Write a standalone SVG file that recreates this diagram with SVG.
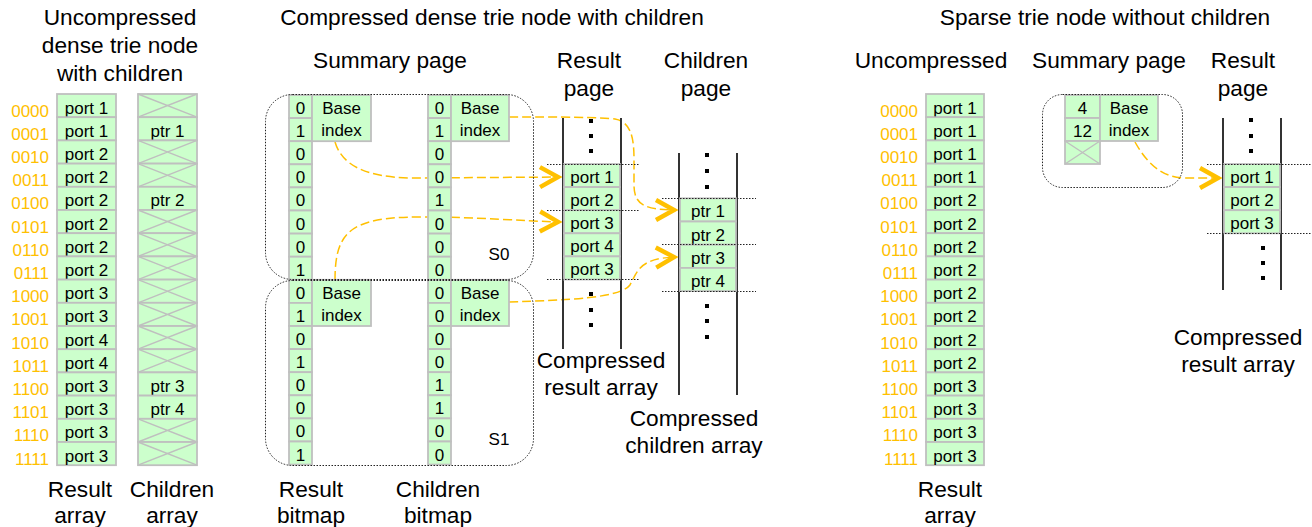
<svg xmlns="http://www.w3.org/2000/svg" xmlns:xlink="http://www.w3.org/1999/xlink" width="1312" height="527" viewBox="0 0 1312 527">
<style>
text{font-family:"Liberation Sans",Arial,sans-serif;fill:#000}
.h{font-size:22.7px;text-anchor:middle}
.c{font-size:17px;text-anchor:middle}
.b{font-size:17px;fill:#FFC000;text-anchor:end}
.cell{fill:#CCFFCC;stroke:#BFBFBF;stroke-width:1.8}
.x{stroke:#BFBFBF;stroke-width:1.4}
.vl{stroke:#333;stroke-width:2}
.dl{stroke:#222;stroke-width:1;stroke-dasharray:1.5 1.5;fill:none}
.con{stroke:#FFC000;stroke-width:1.5;stroke-dasharray:9 4;fill:none}
.dot{fill:#000}
</style>
<defs>
<marker id="chev" markerUnits="userSpaceOnUse" markerWidth="30" markerHeight="30" viewBox="0 0 30 30" refX="25" refY="15" orient="auto" overflow="visible">
<path d="M4,5 L22,15 L4,25" fill="none" stroke="#FFC000" stroke-width="4.5"/>
</marker>
<g id="xc59"><rect class="cell" x="0" y="0" width="59" height="23.2"/><path class="x" d="M0,0 L59,23.2 M59,0 L0,23.2"/></g>
<g id="xc35"><rect class="cell" x="0" y="0" width="35" height="23"/><path class="x" d="M0,0 L35,23 M35,0 L0,23"/></g>
<rect id="dot" class="dot" x="-2" y="-2" width="4" height="4"/>
</defs>

<g id="titles">
<text class="h" x="120" y="25">Uncompressed</text>
<text class="h" x="120" y="53">dense trie node</text>
<text class="h" x="120" y="81">with children</text>
<text class="h" x="492" y="25">Compressed dense trie node with children</text>
<text class="h" x="390" y="68">Summary page</text>
<text class="h" x="589" y="68">Result</text>
<text class="h" x="589" y="96">page</text>
<text class="h" x="706" y="68">Children</text>
<text class="h" x="706" y="96">page</text>
<text class="h" x="1105" y="25">Sparse trie node without children</text>
<text class="h" x="931" y="68">Uncompressed</text>
<text class="h" x="1109" y="68">Summary page</text>
<text class="h" x="1243" y="68">Result</text>
<text class="h" x="1243" y="96">page</text>
</g>

<g id="connectors">
<path class="con" marker-end="url(#chev)" d="M335,142 C342,165 365,177 410,178 L561,177"/>
<path class="con" marker-end="url(#chev)" d="M335,280 C335,232 350,217 420,217 C480,217 520,221 561,222"/>
<path class="con" marker-end="url(#chev)" d="M509,117 C560,117 600,117 615,119 C632,122 634,140 634,160 L634,185 C634,205 645,210 677,210"/>
<path class="con" marker-end="url(#chev)" d="M509,302 C570,300 620,298 630,285 C638,270 640,258 677,257"/>
<path class="con" marker-end="url(#chev)" d="M1135,142 C1145,160 1160,178 1185,178 L1221,178"/>
</g>

<g id="left-labels">
<text class="b" x="49" y="116.5">0000</text>
<text class="b" x="49" y="139.7">0001</text>
<text class="b" x="49" y="162.9">0010</text>
<text class="b" x="49" y="186.1">0011</text>
<text class="b" x="49" y="209.3">0100</text>
<text class="b" x="49" y="232.5">0101</text>
<text class="b" x="49" y="255.7">0110</text>
<text class="b" x="49" y="278.9">0111</text>
<text class="b" x="49" y="302.1">1000</text>
<text class="b" x="49" y="325.3">1001</text>
<text class="b" x="49" y="348.5">1010</text>
<text class="b" x="49" y="371.7">1011</text>
<text class="b" x="49" y="394.9">1100</text>
<text class="b" x="49" y="418.1">1101</text>
<text class="b" x="49" y="441.3">1110</text>
<text class="b" x="49" y="464.5">1111</text>
</g>

<g id="left-result-array">
<rect class="cell" x="57" y="94" width="59" height="23.2"/><text class="c" x="86.5" y="113.5">port 1</text>
<rect class="cell" x="57" y="117.2" width="59" height="23.2"/><text class="c" x="86.5" y="136.7">port 1</text>
<rect class="cell" x="57" y="140.4" width="59" height="23.2"/><text class="c" x="86.5" y="159.9">port 2</text>
<rect class="cell" x="57" y="163.6" width="59" height="23.2"/><text class="c" x="86.5" y="183.1">port 2</text>
<rect class="cell" x="57" y="186.8" width="59" height="23.2"/><text class="c" x="86.5" y="206.3">port 2</text>
<rect class="cell" x="57" y="210" width="59" height="23.2"/><text class="c" x="86.5" y="229.5">port 2</text>
<rect class="cell" x="57" y="233.2" width="59" height="23.2"/><text class="c" x="86.5" y="252.7">port 2</text>
<rect class="cell" x="57" y="256.4" width="59" height="23.2"/><text class="c" x="86.5" y="275.9">port 2</text>
<rect class="cell" x="57" y="279.6" width="59" height="23.2"/><text class="c" x="86.5" y="299.1">port 3</text>
<rect class="cell" x="57" y="302.8" width="59" height="23.2"/><text class="c" x="86.5" y="322.3">port 3</text>
<rect class="cell" x="57" y="326" width="59" height="23.2"/><text class="c" x="86.5" y="345.5">port 4</text>
<rect class="cell" x="57" y="349.2" width="59" height="23.2"/><text class="c" x="86.5" y="368.7">port 4</text>
<rect class="cell" x="57" y="372.4" width="59" height="23.2"/><text class="c" x="86.5" y="391.9">port 3</text>
<rect class="cell" x="57" y="395.6" width="59" height="23.2"/><text class="c" x="86.5" y="415.1">port 3</text>
<rect class="cell" x="57" y="418.8" width="59" height="23.2"/><text class="c" x="86.5" y="438.3">port 3</text>
<rect class="cell" x="57" y="442" width="59" height="23.2"/><text class="c" x="86.5" y="461.5">port 3</text>
<text class="h" x="80" y="497">Result</text>
<text class="h" x="80" y="523">array</text>
</g>

<g id="left-children-array">
<use href="#xc59" x="138" y="94"/>
<rect class="cell" x="138" y="117.2" width="59" height="23.2"/><text class="c" x="167.5" y="136.7">ptr 1</text>
<use href="#xc59" x="138" y="140.4"/>
<use href="#xc59" x="138" y="163.6"/>
<rect class="cell" x="138" y="186.8" width="59" height="23.2"/><text class="c" x="167.5" y="206.3">ptr 2</text>
<use href="#xc59" x="138" y="210"/>
<use href="#xc59" x="138" y="233.2"/>
<use href="#xc59" x="138" y="256.4"/>
<use href="#xc59" x="138" y="279.6"/>
<use href="#xc59" x="138" y="302.8"/>
<use href="#xc59" x="138" y="326"/>
<use href="#xc59" x="138" y="349.2"/>
<rect class="cell" x="138" y="372.4" width="59" height="23.2"/><text class="c" x="167.5" y="391.9">ptr 3</text>
<rect class="cell" x="138" y="395.6" width="59" height="23.2"/><text class="c" x="167.5" y="415.1">ptr 4</text>
<use href="#xc59" x="138" y="418.8"/>
<use href="#xc59" x="138" y="442"/>
<text class="h" x="172" y="497">Children</text>
<text class="h" x="172" y="523">array</text>
</g>

<g id="result-bitmap">
<rect class="cell" x="289" y="95" width="23" height="23.1"/><text class="c" x="300.5" y="114">0</text>
<rect class="cell" x="289" y="118.1" width="23" height="23.1"/><text class="c" x="300.5" y="137.1">1</text>
<rect class="cell" x="289" y="141.2" width="23" height="23.1"/><text class="c" x="300.5" y="160.2">0</text>
<rect class="cell" x="289" y="164.3" width="23" height="23.1"/><text class="c" x="300.5" y="183.3">0</text>
<rect class="cell" x="289" y="187.4" width="23" height="23.1"/><text class="c" x="300.5" y="206.4">0</text>
<rect class="cell" x="289" y="210.5" width="23" height="23.1"/><text class="c" x="300.5" y="229.5">0</text>
<rect class="cell" x="289" y="233.6" width="23" height="23.1"/><text class="c" x="300.5" y="252.6">0</text>
<rect class="cell" x="289" y="256.7" width="23" height="23.1"/><text class="c" x="300.5" y="275.7">1</text>
<rect class="cell" x="289" y="279.8" width="23" height="23.1"/><text class="c" x="300.5" y="298.8">0</text>
<rect class="cell" x="289" y="302.9" width="23" height="23.1"/><text class="c" x="300.5" y="321.9">1</text>
<rect class="cell" x="289" y="326" width="23" height="23.1"/><text class="c" x="300.5" y="345">0</text>
<rect class="cell" x="289" y="349.1" width="23" height="23.1"/><text class="c" x="300.5" y="368.1">1</text>
<rect class="cell" x="289" y="372.2" width="23" height="23.1"/><text class="c" x="300.5" y="391.2">0</text>
<rect class="cell" x="289" y="395.3" width="23" height="23.1"/><text class="c" x="300.5" y="414.3">0</text>
<rect class="cell" x="289" y="418.4" width="23" height="23.1"/><text class="c" x="300.5" y="437.4">0</text>
<rect class="cell" x="289" y="441.5" width="23" height="23.1"/><text class="c" x="300.5" y="460.5">1</text>
<rect class="cell" x="312" y="95" width="59" height="46.2"/><text class="c" x="341.5" y="114">Base</text><text class="c" x="341.5" y="136">index</text>
<rect class="cell" x="312" y="279.8" width="59" height="46.2"/><text class="c" x="341.5" y="299">Base</text><text class="c" x="341.5" y="321">index</text>
<text class="h" x="311" y="497">Result</text>
<text class="h" x="311" y="523">bitmap</text>
</g>

<g id="children-bitmap">
<rect class="cell" x="428" y="95" width="23" height="23.1"/><text class="c" x="439.5" y="114">0</text>
<rect class="cell" x="428" y="118.1" width="23" height="23.1"/><text class="c" x="439.5" y="137.1">1</text>
<rect class="cell" x="428" y="141.2" width="23" height="23.1"/><text class="c" x="439.5" y="160.2">0</text>
<rect class="cell" x="428" y="164.3" width="23" height="23.1"/><text class="c" x="439.5" y="183.3">0</text>
<rect class="cell" x="428" y="187.4" width="23" height="23.1"/><text class="c" x="439.5" y="206.4">1</text>
<rect class="cell" x="428" y="210.5" width="23" height="23.1"/><text class="c" x="439.5" y="229.5">0</text>
<rect class="cell" x="428" y="233.6" width="23" height="23.1"/><text class="c" x="439.5" y="252.6">0</text>
<rect class="cell" x="428" y="256.7" width="23" height="23.1"/><text class="c" x="439.5" y="275.7">0</text>
<rect class="cell" x="428" y="279.8" width="23" height="23.1"/><text class="c" x="439.5" y="298.8">0</text>
<rect class="cell" x="428" y="302.9" width="23" height="23.1"/><text class="c" x="439.5" y="321.9">0</text>
<rect class="cell" x="428" y="326" width="23" height="23.1"/><text class="c" x="439.5" y="345">0</text>
<rect class="cell" x="428" y="349.1" width="23" height="23.1"/><text class="c" x="439.5" y="368.1">0</text>
<rect class="cell" x="428" y="372.2" width="23" height="23.1"/><text class="c" x="439.5" y="391.2">1</text>
<rect class="cell" x="428" y="395.3" width="23" height="23.1"/><text class="c" x="439.5" y="414.3">1</text>
<rect class="cell" x="428" y="418.4" width="23" height="23.1"/><text class="c" x="439.5" y="437.4">0</text>
<rect class="cell" x="428" y="441.5" width="23" height="23.1"/><text class="c" x="439.5" y="460.5">0</text>
<rect class="cell" x="451" y="95" width="58" height="46.2"/><text class="c" x="480" y="114">Base</text><text class="c" x="480" y="136">index</text>
<rect class="cell" x="451" y="279.8" width="58" height="46.2"/><text class="c" x="480" y="299">Base</text><text class="c" x="480" y="321">index</text>
<text class="h" x="438" y="497">Children</text>
<text class="h" x="438" y="523">bitmap</text>
</g>

<g id="summary-S0">
<rect class="dl" x="265.5" y="94.5" width="268" height="185" rx="27"/>
<text class="c" x="499" y="260">S0</text>
</g>
<g id="summary-S1">
<rect class="dl" x="265.5" y="280.5" width="268" height="185" rx="27"/>
<text class="c" x="499" y="445">S1</text>
</g>

<g id="result-page">
<line class="vl" x1="563" y1="118" x2="563" y2="349"/>
<line class="vl" x1="621" y1="118" x2="621" y2="349"/>
<use href="#dot" x="591" y="121"/><use href="#dot" x="591" y="136"/><use href="#dot" x="591" y="151"/>
<rect class="cell" x="564" y="164" width="56" height="23.1"/><text class="c" x="592" y="183">port 1</text>
<rect class="cell" x="564" y="187.1" width="56" height="23.1"/><text class="c" x="592" y="206.1">port 2</text>
<rect class="cell" x="564" y="210.2" width="56" height="23.1"/><text class="c" x="592" y="229.2">port 3</text>
<rect class="cell" x="564" y="233.3" width="56" height="23.1"/><text class="c" x="592" y="252.3">port 4</text>
<rect class="cell" x="564" y="256.4" width="56" height="23.1"/><text class="c" x="592" y="275.4">port 3</text>
<line class="dl" x1="547" y1="164.5" x2="640" y2="164.5"/>
<line class="dl" x1="547" y1="210.5" x2="640" y2="210.5"/>
<line class="dl" x1="547" y1="279.5" x2="640" y2="279.5"/>
<use href="#dot" x="591" y="294"/><use href="#dot" x="591" y="310"/><use href="#dot" x="591" y="325"/>
<text class="h" x="601" y="368">Compressed</text>
<text class="h" x="601" y="395">result array</text>
</g>

<g id="children-page">
<line class="vl" x1="679" y1="153" x2="679" y2="395"/>
<line class="vl" x1="737" y1="153" x2="737" y2="395"/>
<use href="#dot" x="707" y="155"/><use href="#dot" x="707" y="171"/><use href="#dot" x="707" y="187"/>
<rect class="cell" x="680" y="198.3" width="56" height="23.2"/><text class="c" x="708" y="217.3">ptr 1</text>
<rect class="cell" x="680" y="221.5" width="56" height="23.2"/><text class="c" x="708" y="240.5">ptr 2</text>
<rect class="cell" x="680" y="244.7" width="56" height="23.2"/><text class="c" x="708" y="263.7">ptr 3</text>
<rect class="cell" x="680" y="267.9" width="56" height="23.2"/><text class="c" x="708" y="286.9">ptr 4</text>
<line class="dl" x1="662" y1="198.5" x2="756" y2="198.5"/>
<line class="dl" x1="662" y1="244.5" x2="756" y2="244.5"/>
<line class="dl" x1="662" y1="291.5" x2="756" y2="291.5"/>
<use href="#dot" x="707" y="306"/><use href="#dot" x="707" y="321"/><use href="#dot" x="707" y="337"/>
<text class="h" x="694" y="426">Compressed</text>
<text class="h" x="694" y="453">children array</text>
</g>

<g id="right-labels">
<text class="b" x="918" y="116.5">0000</text>
<text class="b" x="918" y="139.7">0001</text>
<text class="b" x="918" y="162.9">0010</text>
<text class="b" x="918" y="186.1">0011</text>
<text class="b" x="918" y="209.3">0100</text>
<text class="b" x="918" y="232.5">0101</text>
<text class="b" x="918" y="255.7">0110</text>
<text class="b" x="918" y="278.9">0111</text>
<text class="b" x="918" y="302.1">1000</text>
<text class="b" x="918" y="325.3">1001</text>
<text class="b" x="918" y="348.5">1010</text>
<text class="b" x="918" y="371.7">1011</text>
<text class="b" x="918" y="394.9">1100</text>
<text class="b" x="918" y="418.1">1101</text>
<text class="b" x="918" y="441.3">1110</text>
<text class="b" x="918" y="464.5">1111</text>
</g>

<g id="right-result-array">
<rect class="cell" x="926" y="94" width="58" height="23.2"/><text class="c" x="955" y="113.5">port 1</text>
<rect class="cell" x="926" y="117.2" width="58" height="23.2"/><text class="c" x="955" y="136.7">port 1</text>
<rect class="cell" x="926" y="140.4" width="58" height="23.2"/><text class="c" x="955" y="159.9">port 1</text>
<rect class="cell" x="926" y="163.6" width="58" height="23.2"/><text class="c" x="955" y="183.1">port 1</text>
<rect class="cell" x="926" y="186.8" width="58" height="23.2"/><text class="c" x="955" y="206.3">port 2</text>
<rect class="cell" x="926" y="210" width="58" height="23.2"/><text class="c" x="955" y="229.5">port 2</text>
<rect class="cell" x="926" y="233.2" width="58" height="23.2"/><text class="c" x="955" y="252.7">port 2</text>
<rect class="cell" x="926" y="256.4" width="58" height="23.2"/><text class="c" x="955" y="275.9">port 2</text>
<rect class="cell" x="926" y="279.6" width="58" height="23.2"/><text class="c" x="955" y="299.1">port 2</text>
<rect class="cell" x="926" y="302.8" width="58" height="23.2"/><text class="c" x="955" y="322.3">port 2</text>
<rect class="cell" x="926" y="326" width="58" height="23.2"/><text class="c" x="955" y="345.5">port 2</text>
<rect class="cell" x="926" y="349.2" width="58" height="23.2"/><text class="c" x="955" y="368.7">port 2</text>
<rect class="cell" x="926" y="372.4" width="58" height="23.2"/><text class="c" x="955" y="391.9">port 3</text>
<rect class="cell" x="926" y="395.6" width="58" height="23.2"/><text class="c" x="955" y="415.1">port 3</text>
<rect class="cell" x="926" y="418.8" width="58" height="23.2"/><text class="c" x="955" y="438.3">port 3</text>
<rect class="cell" x="926" y="442" width="58" height="23.2"/><text class="c" x="955" y="461.5">port 3</text>
<text class="h" x="950" y="497">Result</text>
<text class="h" x="950" y="523">array</text>
</g>

<g id="sparse-summary">
<rect class="cell" x="1065" y="95" width="35" height="23"/><text class="c" x="1082.5" y="114">4</text>
<rect class="cell" x="1065" y="118" width="35" height="23"/><text class="c" x="1082.5" y="137">12</text>
<use href="#xc35" x="1065" y="141"/>
<rect class="cell" x="1100" y="95" width="58" height="46"/><text class="c" x="1129" y="114">Base</text><text class="c" x="1129" y="136">index</text>
<rect class="dl" x="1042.5" y="94.5" width="140" height="93" rx="20"/>
</g>

<g id="sparse-result-page">
<line class="vl" x1="1223" y1="118" x2="1223" y2="290"/>
<line class="vl" x1="1281" y1="118" x2="1281" y2="290"/>
<use href="#dot" x="1251" y="120"/><use href="#dot" x="1251" y="136"/><use href="#dot" x="1251" y="151"/>
<rect class="cell" x="1224" y="164" width="56" height="23.1"/><text class="c" x="1252" y="183">port 1</text>
<rect class="cell" x="1224" y="187.1" width="56" height="23.1"/><text class="c" x="1252" y="206.1">port 2</text>
<rect class="cell" x="1224" y="210.2" width="56" height="23.1"/><text class="c" x="1252" y="229.2">port 3</text>
<line class="dl" x1="1207" y1="164.5" x2="1312" y2="164.5"/>
<line class="dl" x1="1207" y1="233.5" x2="1312" y2="233.5"/>
<use href="#dot" x="1263" y="248"/><use href="#dot" x="1263" y="263"/><use href="#dot" x="1263" y="278"/>
<text class="h" x="1238" y="345">Compressed</text>
<text class="h" x="1238" y="372">result array</text>
</g>
</svg>
